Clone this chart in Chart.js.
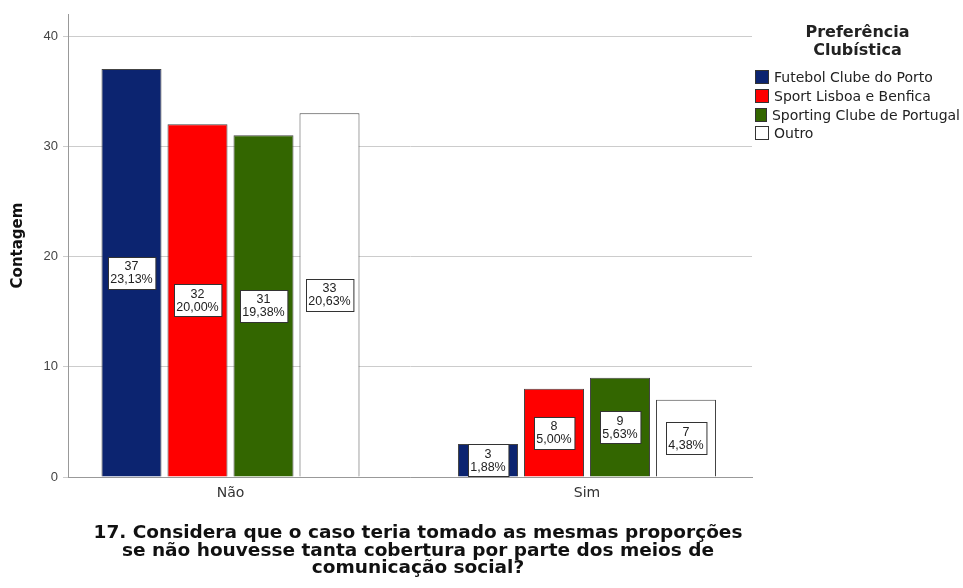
<!DOCTYPE html>
<html lang="pt">
<head>
<meta charset="utf-8">
<title>Preferência Clubística</title>
<script src="https://cdn.jsdelivr.net/npm/chart.js@4.4.0/dist/chart.umd.min.js"></script>
<style>
  body { margin: 0; background: #fff; }
  #wrap { position: relative; width: 963px; height: 588px; }
  #legenda {
    position: absolute; left: 755px; top: 23px; width: 205px;
    font-family: "DejaVu Sans", sans-serif; color: #222;
  }
  #legenda .titulo {
    width: 205px; text-align: center; font-weight: bold; font-size: 16px; line-height: 18px;
    margin-bottom: 9px;
  }
  #legenda .item { display: flex; align-items: center; height: 18.7px; font-size: 14px; white-space: nowrap; }
  #legenda .caixa { width: 14px; height: 14px; border: 1px solid #333; box-sizing: border-box; margin-right: 5px; }
  #titulo {
    position: absolute; left: 0; top: 523px; width: 836px; text-align: center;
    font-family: "DejaVu Sans", sans-serif; font-weight: bold; font-size: 18.5px; line-height: 17.7px; color: #111;
  }
</style>
</head>
<body>
<div id="wrap">
  <canvas id="grafico" width="963" height="588"></canvas>
  <div id="legenda"></div>
  <div id="titulo"></div>
</div>
<script>
// Contagens por resposta e clube
const categorias = ['Não', 'Sim'];
const clubes = ['Futebol Clube do Porto', 'Sport Lisboa e Benfica', 'Sporting Clube de Portugal', 'Outro'];
const porto = [37, 3];
const benfica = [32, 8];
const sporting = [31, 9];
const outro = [33, 7];
const ticksY = [0, 10, 20, 30, 40];
const tituloLinhas = ['17. Considera que o caso teria tomado as mesmas proporções',
                      'se não houvesse tanta cobertura por parte dos meios de',
                      'comunicação social?'];

const series = [porto, benfica, sporting, outro];
const cores = ['#0c2470', '#ff0000', '#336600', '#ffffff'];
const total = series.flat().reduce((a, b) => a + b, 0);

// legenda à direita e título por baixo
const leg = document.getElementById('legenda');
leg.innerHTML = '<div class="titulo">Preferência<br>Clubística</div>' +
  clubes.map((c, i) => '<div class="item"><span class="caixa" style="background:' + cores[i] + '"></span>' + c + '</div>').join('');
document.getElementById('titulo').innerHTML = tituloLinhas.join('<br>');

// rótulos com contagem e percentagem no meio de cada barra
const rotulos = {
  id: 'rotulos',
  afterDatasetsDraw(chart) {
    const ctx = chart.ctx;
    ctx.save();
    ctx.font = '12.5px "Liberation Sans", Arial, sans-serif';
    ctx.textAlign = 'center';
    ctx.textBaseline = 'middle';
    chart.data.datasets.forEach((ds, i) => {
      chart.getDatasetMeta(i).data.forEach((bar, j) => {
        const v = ds.data[j].y;
        const pct = (v * 100 / total).toFixed(2).replace('.', ',') + '%';
        const linhas = [String(v), pct];
        const w = Math.max(...linhas.map(t => ctx.measureText(t).width)) + 5;
        const h = 32;
        const cx = bar.x;
        const cy = (bar.y + bar.base) / 2;
        const x0 = Math.round(cx - w / 2) + 0.5, y0 = Math.round(cy - h / 2) + 0.5;
        ctx.fillStyle = '#fff';
        ctx.fillRect(x0, y0, w, h);
        ctx.strokeStyle = '#333';
        ctx.lineWidth = 1;
        ctx.strokeRect(x0, y0, w, h);
        ctx.fillStyle = '#222';
        ctx.fillText(linhas[0], cx, cy - 6);
        ctx.fillText(linhas[1], cx, cy + 7);
      });
    });
    ctx.restore();
  }
};

// posição das categorias no eixo x
const posX = categorias.map((c, i) => i);

new Chart(document.getElementById('grafico'), {
  type: 'bar',
  data: {
    datasets: series.map((s, i) => ({
      label: clubes[i],
      data: s.map((v, j) => ({ x: posX[j], y: v })),
      backgroundColor: cores[i],
      borderColor: '#444',
      borderWidth: 1,
      categoryPercentage: 0.7405,
      barPercentage: 0.909
    }))
  },
  options: {
    responsive: false,
    animation: false,
    devicePixelRatio: 1,
    layout: { padding: { top: 14, right: 211, left: 0, bottom: 64.5 } },
    plugins: {
      legend: { display: false },
      tooltip: { enabled: false }
    },
    scales: {
      x: {
        type: 'linear',
        offset: false,
        min: -0.4558,
        max: 1.4628,
        afterFit: s => { s.height = 46.5; },
        afterBuildTicks: s => { s.ticks = posX.map(v => ({ value: v })); },
        grid: { display: false, drawTicks: false },
        border: { display: true, color: '#999' },
        ticks: {
          autoSkip: false,
          padding: 8,
          color: '#333',
          font: { family: '"DejaVu Sans", sans-serif', size: 14 },
          callback: v => categorias[v]
        }
      },
      y: {
        min: 0,
        max: 42,
        afterFit: s => { s.width = 68; },
        afterBuildTicks: s => { s.ticks = ticksY.map(v => ({ value: v })); },
        grid: { color: '#cccccc', tickLength: 5 },
        border: { display: true, color: '#999' },
        ticks: {
          padding: 5,
          color: '#444',
          font: { family: '"Liberation Sans", Arial, sans-serif', size: 13 }
        },
        title: {
          display: true,
          text: 'Contagem',
          color: '#111',
          font: { family: '"DejaVu Sans", sans-serif', size: 15, weight: 'bold', lineHeight: 1.2 },
          padding: { top: 9, bottom: 0 }
        }
      }
    }
  },
  plugins: [rotulos]
});
</script>
</body>
</html>
